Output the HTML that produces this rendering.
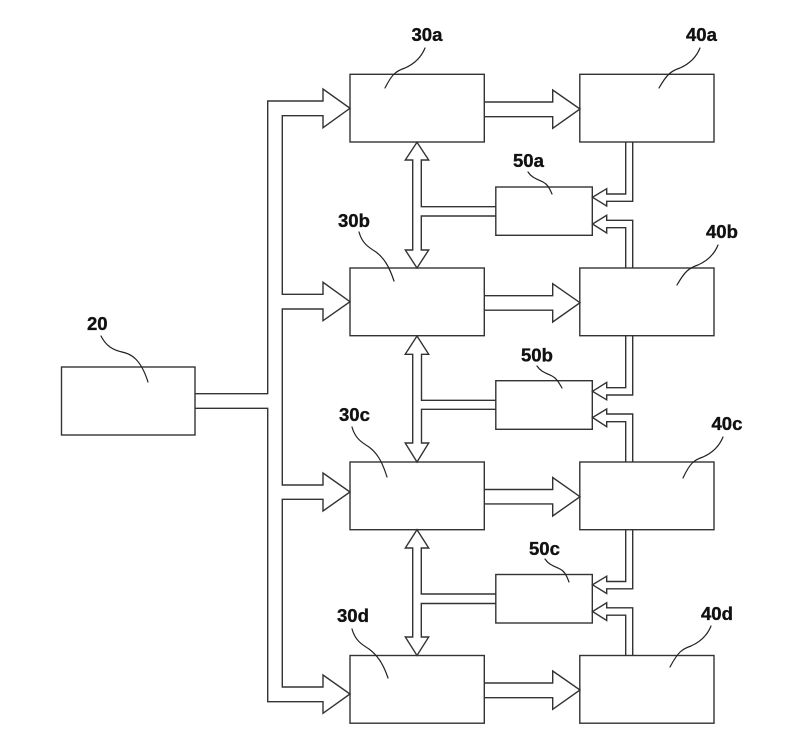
<!DOCTYPE html>
<html>
<head>
<meta charset="utf-8">
<style>
html,body{margin:0;padding:0;background:#fff;}
svg{display:block;}
text{font-family:"Liberation Sans",sans-serif;font-weight:bold;font-size:18.5px;fill:#111;stroke:#111;stroke-width:0.35;}
.s{fill:none;stroke:#333;stroke-width:1.4;stroke-linejoin:miter;}
.q{fill:none;stroke:#222;stroke-width:1.2;stroke-linecap:round;}
</style>
</head>
<body>
<svg width="800" height="736" viewBox="0 0 800 736" xmlns="http://www.w3.org/2000/svg">
<rect width="800" height="736" fill="#fff"/>

<!-- main bus from 20 -->
<path class="s" d="M195 393.7H267.7V101H323V89L350 108.3L323 127.7V115.7H282.3V294.3H323V282.3L350 301.7L323 320.7V309H282.3V485H323V473L350 492L323 511V499.3H282.3V687H323V675L350 694L323 713.3V701.7H267.7V408.3H195"/>

<!-- boxes -->
<g class="s">
<rect x="61.5" y="367" width="133.5" height="68"/>
<rect x="350" y="74.3" width="134.3" height="67.7"/>
<rect x="350" y="268" width="134.3" height="67.7"/>
<rect x="350" y="462" width="134.3" height="67.7"/>
<rect x="350" y="655.5" width="134.3" height="67.7"/>
<rect x="579.8" y="74.3" width="134.2" height="67.7"/>
<rect x="579.8" y="268" width="134.2" height="67.7"/>
<rect x="579.8" y="462" width="134.2" height="67.7"/>
<rect x="579.8" y="655.5" width="134.2" height="67.7"/>
<rect x="495.8" y="187" width="96.5" height="48.3"/>
<rect x="495.8" y="380.7" width="96.5" height="48.6"/>
<rect x="495.8" y="574.5" width="96.5" height="48.5"/>
</g>

<!-- 30 to 40 arrows -->
<path class="s" d="M484.3 102H552.7V90L580 109L552.7 128.3V116.7H484.3"/>
<path class="s" d="M484.3 295.7H552.7V283.7L580 302.7L552.7 322V310.2H484.3"/>
<path class="s" d="M484.3 489.5H552.7V477.5L580 496.7L552.7 516V503.9H484.3"/>
<path class="s" d="M484.3 683H552.7V671L580 690L552.7 709.3V697.7H484.3"/>

<!-- double arrows -->
<path class="s" d="M495.8 206.7H421.3V160H428.7L417 142.3L405.3 160H412.7V250H405.3L417 268L428.7 250H421.3V216H495.8"/>
<path class="s" d="M495.8 400.3H421.5V354.3H428.7L417 336L405.2 354.3H412.7V443H405.2L417 462L428.7 443H421.5V409.3H495.8"/>
<path class="s" d="M495.8 594H421.3V548H428.7L417 529.7L405.3 548H412.7V637H405.3L417 655.5L428.7 637H421.3V603.5H495.8"/>

<!-- 40 to 50 arrows -->
<path class="s" d="M625.7 142V194H606.7V188.7L592.5 197.3L606.7 206V201.3H632.7V142"/>
<path class="s" d="M632.7 268V220.3H606.7V215.3L592.5 224L606.7 233V227.7H625.7V268"/>
<path class="s" d="M625.7 336V387.7H606.7V382.4L592.5 391.3L606.7 399.8V395H632.7V336"/>
<path class="s" d="M632.7 462V414H606.7V409L592.5 417.5L606.7 426.7V421.7H625.7V462"/>
<path class="s" d="M625.7 529.7V581.5H606.7V576.2L592.5 584.8L606.7 593.5V588.8H632.7V529.7"/>
<path class="s" d="M632.7 655.5V607.8H606.7V602.8L592.5 611.5L606.7 620.5V615.2H625.7V655.5"/>

<!-- leader squiggles -->
<g class="q">
<path d="M425 48C421 58 414 64 405 68C396 71 392 74 385 88"/>
<path d="M700 48C696 58 689 64 680 68C671 71 667 74 659 88"/>
<path d="M718 245C714 255 707 261 698 265C689 268 685 271 677 285"/>
<path d="M723 437C719 447 712 453 703 457C694 460 690 463 683 478"/>
<path d="M711 626C707 636 700 642 691 646C682 649 678 652 670 667"/>
<path d="M359 232C362 243 368 247 376 252C384 258 389 266 394 281"/>
<path d="M352 427C355 438 361 442 369 447C377 453 382 461 387 477"/>
<path d="M352 629C355 640 361 644 369 649C377 655 383 663 388 678"/>
<path d="M101 336C106 346 113 350 122 352C132 354 141 360 148 382"/>
<path d="M528 172C532 178 537 179 543 182C547 184 549 187 552 194"/>
<path d="M537 366C541 372 546 373 552 376C556 378 558 381 562 388"/>
<path d="M545 559C549 565 554 566 560 569C564 571 566 574 569 582"/>
</g>

<!-- labels -->
<text x="411.5" y="41">30a</text>
<text x="686" y="41">40a</text>
<text x="513" y="167">50a</text>
<text x="338" y="227">30b</text>
<text x="706" y="238">40b</text>
<text x="87" y="330">20</text>
<text x="339" y="421">30c</text>
<text x="521" y="361.5">50b</text>
<text x="711.5" y="430">40c</text>
<text x="529" y="555">50c</text>
<text x="337" y="622">30d</text>
<text x="701" y="620">40d</text>
</svg>
</body>
</html>
